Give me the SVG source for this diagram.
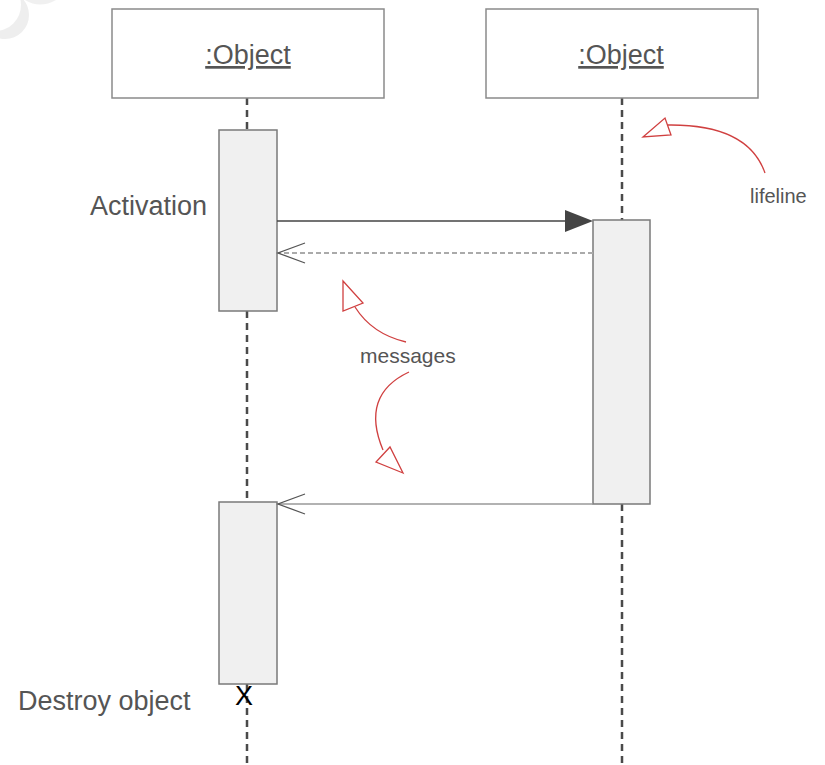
<svg xmlns="http://www.w3.org/2000/svg" width="825" height="765" viewBox="0 0 825 765">
<style>
.box{fill:#fff;stroke:#8a8a8a;stroke-width:1.5}
.act{fill:#f0f0f0;stroke:#7a7a7a;stroke-width:1.5}
.life{stroke:#4a4a4a;stroke-width:2.5;stroke-dasharray:7,5;fill:none}
.lbl{font-family:"Liberation Sans",Arial,sans-serif;fill:#555}
.red{fill:none;stroke:#d04040;stroke-width:1.3}
.redh{fill:#fff;stroke:#d04040;stroke-width:1.3}
</style>
<defs>
<mask id="cres">
<rect x="-40" y="-40" width="120" height="120" fill="#fff"/>
<circle cx="-5" cy="5" r="26" fill="#000"/>
</mask>
</defs>
<rect width="825" height="765" fill="#fff"/>
<g id="watermark" fill="#eeeeee">
<circle cx="5" cy="15" r="24" mask="url(#cres)"/>
<path d="M25,0 Q40,9 56,0 Z" fill="#f0f0f0"/>
</g>
<g id="lifelines">
<path class="life" d="M247,98 V130 M247,311 V502 M247,684 V765"/>
<path class="life" d="M622,98 V220 M622,504 V765"/>
</g>
<g id="object1">
<rect class="box" x="112" y="9" width="272" height="89"/>
<text class="lbl" x="248" y="64" font-size="27" text-anchor="middle" text-decoration="underline">:Object</text>
</g>
<g id="object2">
<rect class="box" x="486" y="9" width="272" height="89"/>
<text class="lbl" x="621" y="64" font-size="27" text-anchor="middle" text-decoration="underline">:Object</text>
</g>
<g id="activation1"><rect class="act" x="219" y="130" width="58" height="181"/></g>
<g id="activation2"><rect class="act" x="593" y="220" width="57" height="284"/></g>
<g id="activation3"><rect class="act" x="219" y="502" width="58" height="182"/></g>
<g id="connectors">
<line x1="277" y1="221" x2="566" y2="221" stroke="#444" stroke-width="1.5"/>
<path d="M565,210 L593,221 L565,232 Z" fill="#444"/>
<line x1="593" y1="253" x2="278" y2="253" stroke="#aaa" stroke-width="1.8" stroke-dasharray="5,3"/>
<path d="M305,243 L278,253 L305,263" fill="none" stroke="#555" stroke-width="1.3"/>
<line x1="593" y1="504" x2="278" y2="504" stroke="#999" stroke-width="1.5"/>
<path d="M305,494 L278,504 L305,514" fill="none" stroke="#555" stroke-width="1.3"/>
</g>
<g id="annotations">
<path class="red" d="M765,173 Q748,124 668,125"/>
<path class="redh" d="M643,137 L665,118 L671,135 Z"/>
<path class="red" d="M406,342 Q372,334 355,307"/>
<path class="redh" d="M343,281 L343,311 L363,303 Z"/>
<path class="red" d="M409,372 Q360,395 383,450"/>
<path class="redh" d="M403,473 L376,462 L390,447 Z"/>
</g>
<g id="labels">
<text class="lbl" x="90" y="215" font-size="27">Activation</text>
<text class="lbl" x="750" y="203" font-size="20">lifeline</text>
<text class="lbl" x="360" y="363" font-size="21">messages</text>
<text class="lbl" x="18" y="710" font-size="27">Destroy object</text>
<text x="244" y="705" font-size="27" font-family="Liberation Sans,Arial,sans-serif" fill="#000" text-anchor="middle">X</text>
</g>
</svg>
